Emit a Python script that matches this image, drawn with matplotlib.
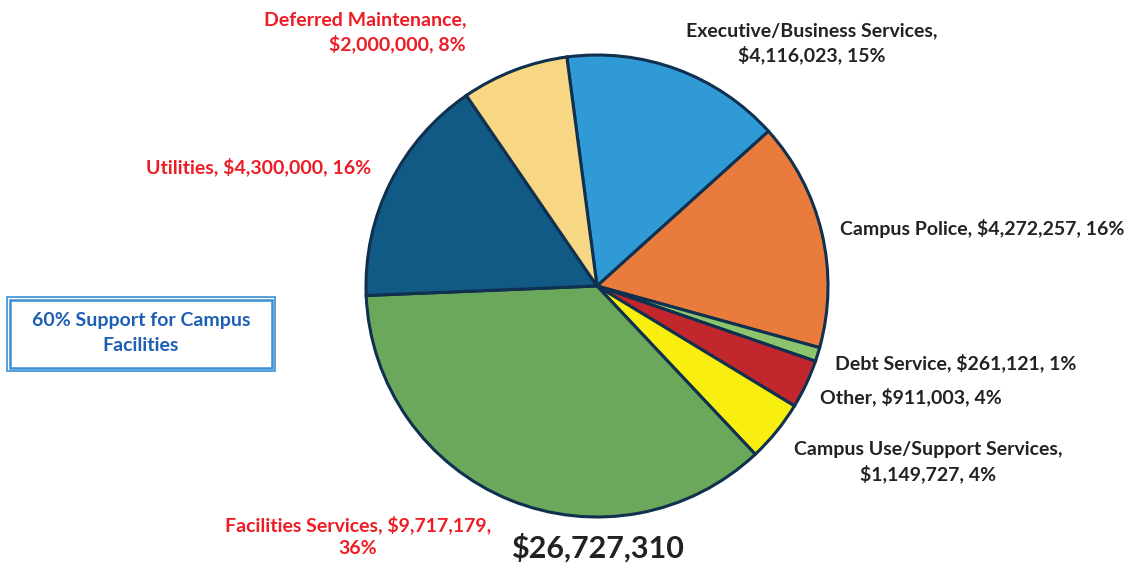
import matplotlib.pyplot as plt
from matplotlib.patches import Rectangle

# campus support budget by area, clockwise from the top
names = ['Executive/Business Services', 'Campus Police', 'Debt Service', 'Other',
         'Campus Use/Support Services', 'Facilities Services', 'Utilities',
         'Deferred Maintenance']
amounts = [4116023, 4272257, 261121, 911003, 1149727, 9717179, 4300000, 2000000]
pct_labels = ['15%', '16%', '1%', '4%', '4%', '36%', '16%', '8%']
colors = ['#2f9ad6', '#e97b3c', '#8cc56e', '#c1272d', '#f8ee10', '#6ca85c',
          '#115a85', '#f7d784']
# where each label wraps: 0 = one line, 1 = after name, 2 = before percent
wraps = [1, 0, 0, 0, 1, 2, 0, 1]
facility_items = ['Facilities Services', 'Utilities', 'Deferred Maintenance']

W, H = 1135, 565
fig = plt.figure(figsize=(W / 100, H / 100), dpi=100)
ax = fig.add_axes([0, 0, 1, 1])

ax.pie(amounts, colors=colors, startangle=97.5, counterclock=False,
       center=(597, H - 286), radius=231, frame=True,
       wedgeprops=dict(edgecolor='#10304f', linewidth=2.2))
ax.set_xlim(0, W)
ax.set_ylim(0, H)
ax.set_aspect('equal')
ax.axis('off')

FONT = 'Lato'

def txt(x, y, s, **kw):
    # y measured from the top edge
    ax.text(x, H - y, s, fontfamily=FONT, fontweight='bold', va='center', **kw)

def make_label(i):
    name, amt, p = names[i], '${:,}'.format(amounts[i]), pct_labels[i]
    if wraps[i] == 1:
        return '{},\n{}, {}'.format(name, amt, p)
    if wraps[i] == 2:
        return '{}, {},\n{}'.format(name, amt, p)
    return '{}, {}, {}'.format(name, amt, p)

# label placement: x, y, horizontal alignment
spots = [(812, 43, 'center'), (840, 229, 'left'), (835, 363, 'left'),
         (820, 397, 'left'), (928, 462, 'center'), (358, 536, 'center'),
         (371, 167, 'right'), (466, 32, 'right')]

for i, (x, y, ha) in enumerate(spots):
    col = '#ee1c25' if names[i] in facility_items else '#222222'
    txt(x, y, make_label(i), ha=ha, ma=ha, color=col, fontsize=14,
        linespacing=1.38)

txt(597, 548, '${:,}'.format(sum(amounts)), ha='center', color='#222222',
    fontsize=22)

# callout box on the left
ax.add_patch(Rectangle((7, H - 371), 268, 74, fill=False,
                       edgecolor='#3a8fd6', linewidth=1.2))
ax.add_patch(Rectangle((10, H - 368), 262, 68, fill=False,
                       edgecolor='#3a8fd6', linewidth=1.8))
txt(141, 333, '60% Support for Campus\nFacilities', ha='center', ma='center',
    color='#1d5fb4', fontsize=14, linespacing=1.55)

fig.savefig('out.png', dpi=100, facecolor='white')
